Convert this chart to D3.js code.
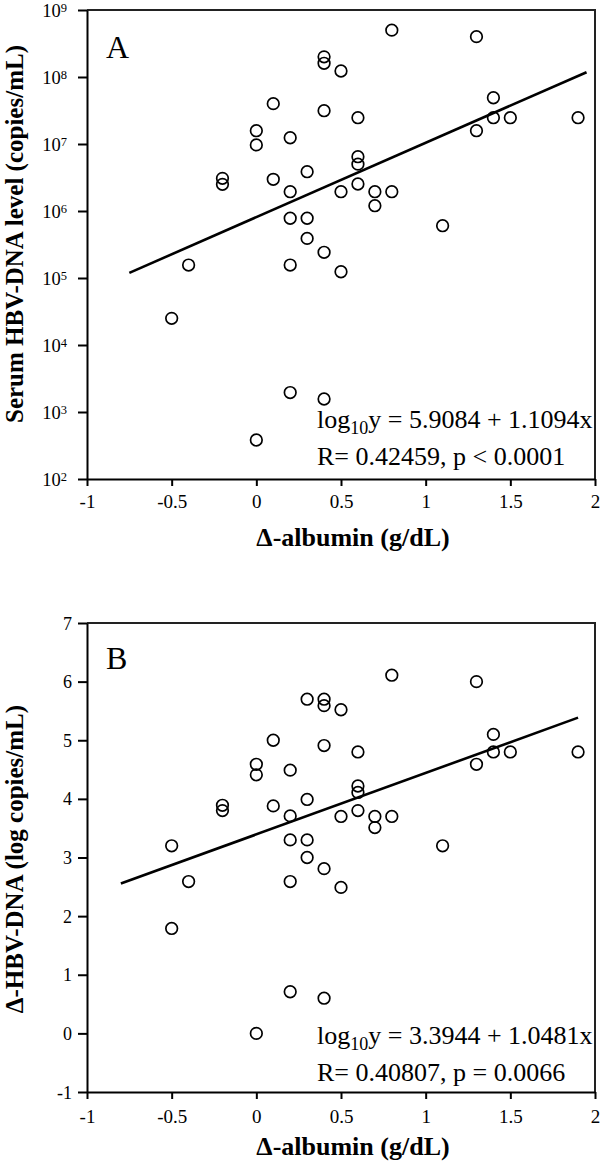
<!DOCTYPE html>
<html>
<head>
<meta charset="utf-8">
<script src="https://cdn.jsdelivr.net/npm/d3@7"></script>
<style>
  body { margin: 0; background: #fff; }
  svg { display: block; }
  text { font-family: "Liberation Serif", "Times New Roman", serif; fill: #000; }
</style>
</head>
<body>
<div id="chart"></div>
<script>
// panel A: serum HBV-DNA (copies/mL) against change in albumin
const albuminA = [-0.5, -0.4, -0.2, -0.2, 0, 0, 0, 0.1, 0.1,
  0.2, 0.2, 0.2, 0.2, 0.2, 0.3, 0.3, 0.3,
  0.4, 0.4, 0.4, 0.4, 0.4, 0.5, 0.5, 0.5,
  0.6, 0.6, 0.6, 0.6, 0.7, 0.7, 0.8, 0.8,
  1.1, 1.3, 1.3, 1.4, 1.4, 1.5, 1.9];
const hbvA = [2.5e4, 1.56e5, 3.07e6, 2.5e6, 1.58e7, 9.7e6, 382, 4e7, 2.97e6,
  1.24e7, 1.94e6, 7.8e5, 1.56e5, 1950, 3.86e6, 7.8e5, 3.9e5,
  2e8, 1.6e8, 3.14e7, 2.42e5, 1563, 1.23e8, 1.94e6, 1.24e5,
  2.47e7, 6.46e6, 5e6, 2.53e6, 1.94e6, 1.2e6, 5e8, 1.94e6,
  6.03e5, 4e8, 1.58e7, 4.9e7, 2.47e7, 2.47e7, 2.47e7];

// panel B: change in HBV-DNA (log copies/mL) against change in albumin
const albuminB = [-0.5, -0.5, -0.4, -0.2, -0.2, 0, 0, 0, 0.1, 0.1,
  0.2, 0.2, 0.2, 0.2, 0.2, 0.3, 0.3, 0.3, 0.3,
  0.4, 0.4, 0.4, 0.4, 0.4, 0.5, 0.5, 0.5,
  0.6, 0.6, 0.6, 0.6, 0.7, 0.7, 0.8, 0.8,
  1.1, 1.3, 1.3, 1.4, 1.4, 1.5, 1.9];
const deltaHbvB = [3.2, 1.79, 2.59, 3.89, 3.8, 4.59, 4.41, 0, 5.0, 3.88,
  4.49, 3.71, 3.3, 2.59, 0.71, 5.7, 3.99, 3.3, 3.0,
  5.7, 5.59, 4.91, 2.81, 0.6, 5.52, 3.7, 2.49,
  4.8, 4.22, 4.11, 3.8, 3.7, 3.51, 6.11, 3.7,
  3.2, 6.0, 4.59, 5.1, 4.8, 4.8, 4.8];

const xTicks = [-1, -0.5, 0, 0.5, 1, 1.5, 2];
const yExpA = [2, 3, 4, 5, 6, 7, 8, 9];
const yTicksB = [-1, 0, 1, 2, 3, 4, 5, 6, 7];

// regression lines, log10 y = a + b x
const fitA = { a: 5.9084, b: 1.1094, from: -0.75, to: 1.95 };
const fitB = { a: 3.3944, b: 1.0481, from: -0.8, to: 1.9 };

const eqA = ['5.9084 + 1.1094x', 'R= 0.42459, p < 0.0001'];
const eqB = ['3.3944 + 1.0481x', 'R= 0.40807, p = 0.0066'];

const width = 600;
const height = 1163;
const LEFT = 87;
const RIGHT = 595;

const svg = d3.select('#chart')
  .append('svg')
  .attr('width', width)
  .attr('height', height);

const x = d3.scaleLinear().domain([-1, 2]).range([LEFT, RIGHT]);

function drawPanel(p) {
  const g = svg.append('g');
  const y = p.y;

  // frame (top + right)
  g.append('path')
    .attr('d', `M${LEFT},${p.top}H${RIGHT}V${p.bottom}`)
    .attr('fill', 'none')
    .attr('stroke', '#222')
    .attr('stroke-width', 2);

  // x axis
  const xa = g.append('g')
    .attr('transform', `translate(0,${p.bottom})`)
    .call(d3.axisBottom(x).tickValues(xTicks).tickSize(7).tickSizeOuter(0)
      .tickFormat((d) => String(d)));
  xa.selectAll('text')
    .attr('y', p.xLabelDy)
    .attr('dy', null)
    .style('font-size', '19px');

  // y axis
  const ya = g.append('g')
    .attr('transform', `translate(${LEFT},0)`)
    .call(d3.axisLeft(y).tickValues(p.yTicks).tickSize(9).tickSizeOuter(0)
      .tickFormat(p.log ? () => '' : (d) => String(d)));
  if (p.log) {
    ya.selectAll('.tick text').remove();
    ya.selectAll('.tick').append('text')
      .attr('x', -20)
      .attr('y', 6)
      .attr('text-anchor', 'end')
      .style('font-size', '18.5px')
      .text('10')
      .append('tspan')
      .attr('dy', -5)
      .style('font-size', '12.5px')
      .text((d) => Math.round(Math.log10(d)));
  } else {
    ya.selectAll('.tick text')
      .attr('x', -15)
      .attr('dy', null)
      .attr('y', 6)
      .style('font-size', '18px');
  }

  [xa, ya].forEach((a) => {
    a.select('.domain').attr('stroke', '#000').attr('stroke-width', 2);
    a.selectAll('.tick line').attr('stroke', '#000').attr('stroke-width', 2);
  });

  // fitted line
  const fx = [p.fit.from, p.fit.to];
  g.append('path')
    .datum(fx)
    .attr('fill', 'none')
    .attr('stroke', '#000')
    .attr('stroke-width', 2.6)
    .attr('d', d3.line()
      .x((d) => x(d))
      .y((d) => y(p.log ? Math.pow(10, p.fit.a + p.fit.b * d) : p.fit.a + p.fit.b * d)));

  // points
  g.selectAll('circle.dot')
    .data(p.xs)
    .join('circle')
    .classed('dot', true)
    .attr('cx', (d) => x(d))
    .attr('cy', (d, i) => y(p.ys[i]))
    .attr('r', 5.8)
    .attr('fill', 'none')
    .attr('stroke', '#000')
    .attr('stroke-width', 1.7);

  // panel letter
  g.append('text')
    .attr('x', 106)
    .attr('y', p.letterY)
    .style('font-size', '32px')
    .text(p.letter);

  // regression text
  const t1 = g.append('text')
    .attr('x', 317)
    .attr('y', p.eqY)
    .style('font-size', '26px');
  t1.append('tspan').text('log');
  t1.append('tspan').attr('dy', 6).style('font-size', '18px').text('10');
  t1.append('tspan').attr('dy', -6).text('y = ' + p.eq[0]);
  g.append('text')
    .attr('x', 317)
    .attr('y', p.eqY + 37)
    .style('font-size', '26px')
    .text(p.eq[1]);

  // axis titles
  g.append('text')
    .attr('x', 353)
    .attr('y', p.xTitleY)
    .attr('text-anchor', 'middle')
    .style('font-size', '26px')
    .style('font-weight', 'bold')
    .text('\u0394-albumin (g/dL)');
  g.append('text')
    .attr('transform', `translate(23,${p.yTitleMid}) rotate(-90)`)
    .attr('text-anchor', 'middle')
    .style('font-size', '25px')
    .style('font-weight', 'bold')
    .text(p.yTitle);
}

drawPanel({
  top: 10,
  bottom: 479,
  log: true,
  y: d3.scaleLog().domain([1e2, 1e9]).range([479, 10]),
  yTicks: yExpA.map((e) => Math.pow(10, e)),
  xs: albuminA,
  ys: hbvA,
  fit: fitA,
  letter: 'A',
  letterY: 58,
  eq: eqA,
  eqY: 428,
  xLabelDy: 29,
  xTitleY: 546,
  yTitle: 'Serum HBV-DNA level (copies/mL)',
  yTitleMid: 234,
});

drawPanel({
  top: 623,
  bottom: 1092,
  log: false,
  y: d3.scaleLinear().domain([-1, 7]).range([1092, 623]),
  yTicks: yTicksB,
  xs: albuminB,
  ys: deltaHbvB,
  fit: fitB,
  letter: 'B',
  letterY: 669,
  eq: eqB,
  eqY: 1044,
  xLabelDy: 31,
  xTitleY: 1155,
  yTitle: '\u0394-HBV-DNA (log copies/mL)',
  yTitleMid: 859,
});
</script>
</body>
</html>
